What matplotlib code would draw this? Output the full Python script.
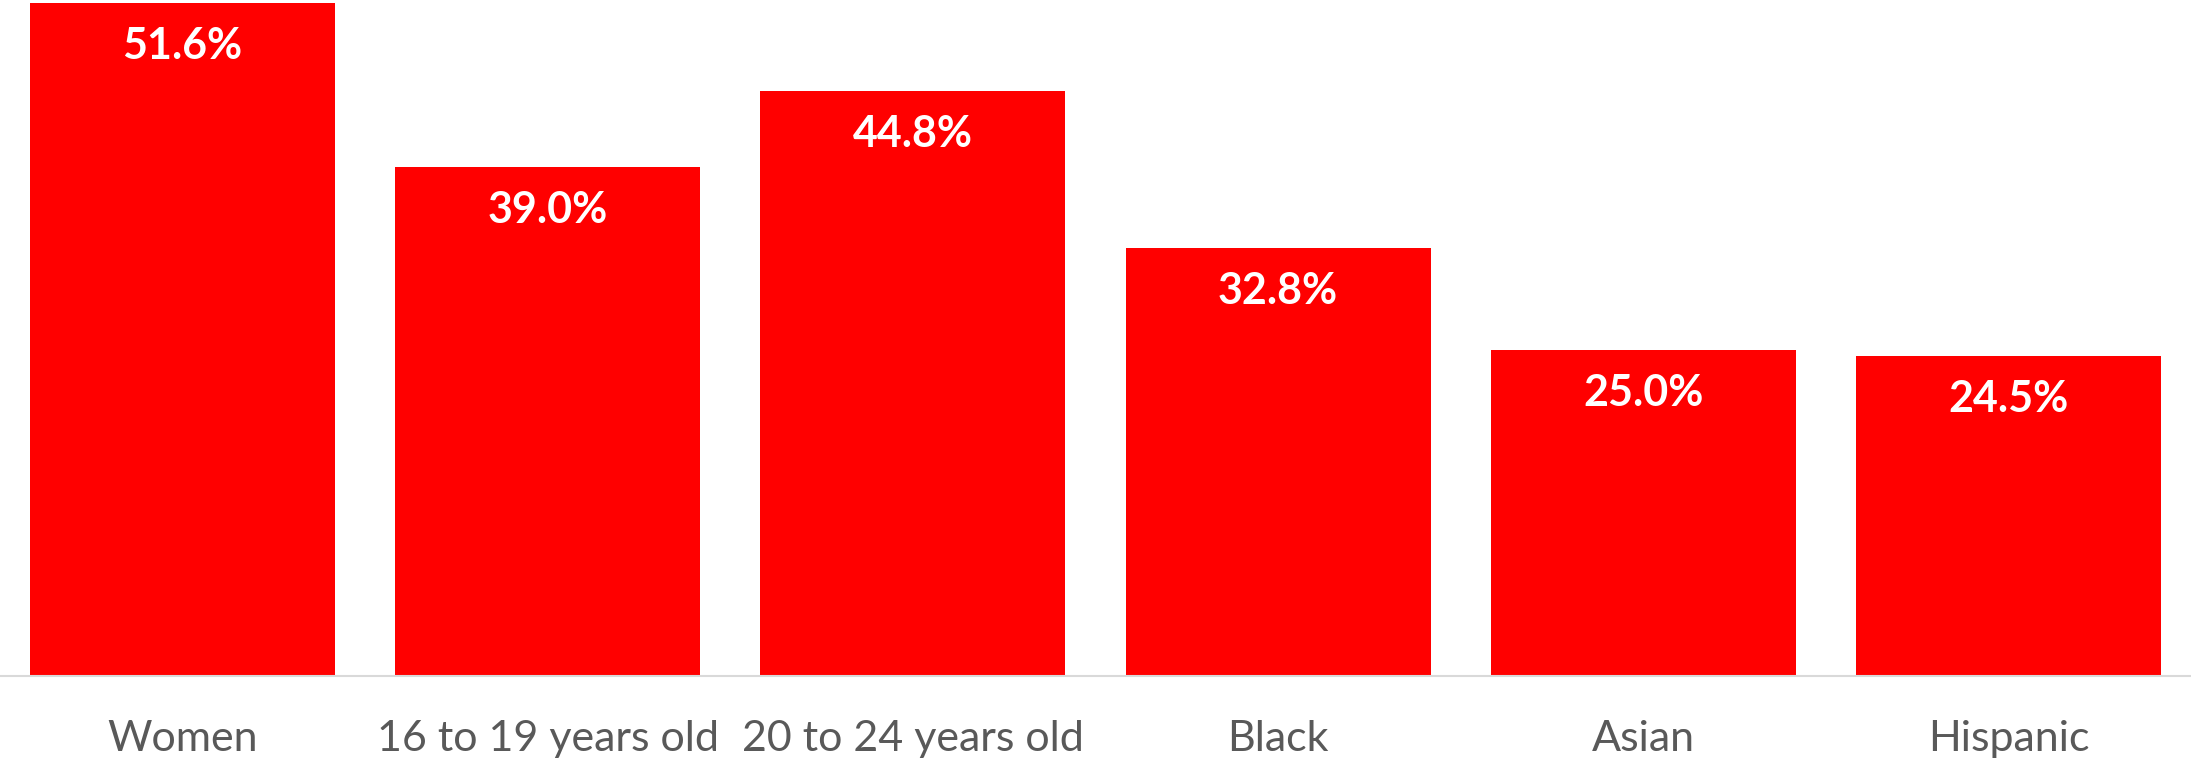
import numpy as np
import matplotlib.pyplot as plt

categories = ['Women', '16 to 19 years old', '20 to 24 years old',
              'Black', 'Asian', 'Hispanic']
values = [51.6, 39.0, 44.8, 32.8, 25.0, 24.5]

fig = plt.figure(figsize=(21.91, 7.63), dpi=100)
ax = fig.add_axes([0, 0.114, 1, 0.886])

x = np.arange(len(categories))
bars = ax.bar(x, values, width=0.835, color='#ff0000', zorder=2)

for b, v in zip(bars, values):
    ax.annotate(f'{v:.1f}%', (b.get_x() + b.get_width() / 2, v),
                xytext=(0, -31), textcoords='offset points',
                ha='center', va='center', color='white',
                fontsize=31, fontweight='bold', family='Lato')

ax.set_xlim(-0.5, len(categories) - 0.5)
ax.set_ylim(0, 51.8)
ax.set_xticks(x)
ax.set_xticklabels(categories, fontsize=31, color='#595959', family='Lato')
ax.tick_params(axis='x', length=0, pad=32)
ax.set_yticks([])

for s in ['top', 'left', 'right']:
    ax.spines[s].set_visible(False)
ax.spines['bottom'].set_color('#d9d9d9')
ax.spines['bottom'].set_linewidth(1.5)

fig.savefig('out.png', dpi=100)
